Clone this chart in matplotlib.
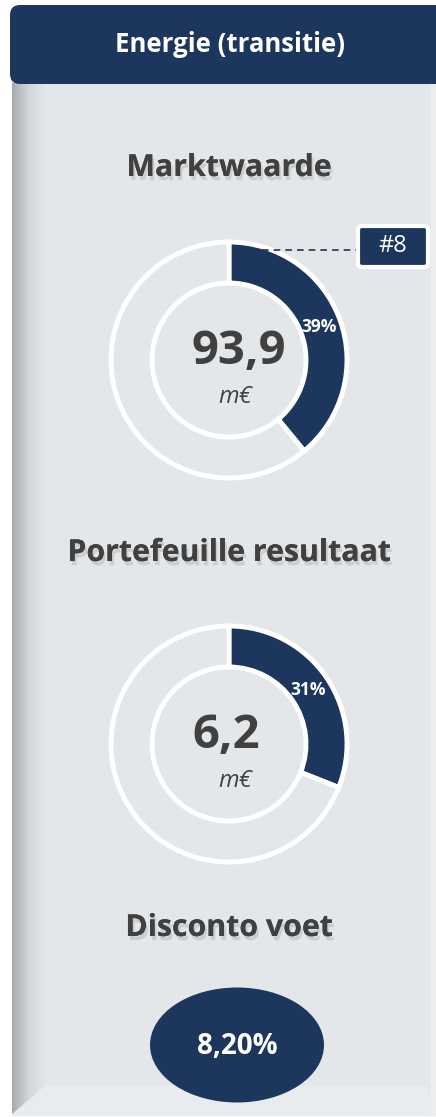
import numpy as np
import matplotlib
matplotlib.use("Agg")
import matplotlib.pyplot as plt
from matplotlib.patches import FancyBboxPatch, Ellipse, Polygon, Rectangle
import matplotlib.patheffects as pe

# chart values
header = "Energie (transitie)"
titles = ["Marktwaarde", "Portefeuille resultaat", "Disconto voet"]
amounts = [93.9, 6.2]
shares = [39, 31]
unit = "m€"
rank_label = "#8"
discount = 8.20

W, H = 436, 1117
navy = "#1C365E"
panel = "#E4E7EA"
txt = "#404040"

plt.rcParams['font.family'] = ['Open Sans', 'DejaVu Sans']

fig = plt.figure(figsize=(W / 100, H / 100), dpi=100)
ax = fig.add_axes([0, 0, 1, 1])


def y(py):
    # pixel row from top -> data y (y up)
    return H - py


# panel + left bevel + bottom bevel
ax.add_patch(Rectangle((12, y(1115)), W - 12, 1115 - 80, color=panel, zorder=0))
grad = np.linspace(0, 1, 64).reshape(1, -1)
ax.imshow(grad, cmap=matplotlib.colors.LinearSegmentedColormap.from_list(
    "bev", ["#A7ABAF", "#D4D7DA", panel]), extent=(12, 46, y(1115), y(83)),
    aspect="auto", zorder=0.5, interpolation="bicubic")
ax.add_patch(Polygon([(12, y(1115)), (46, y(1086)), (W - 10, y(1086)), (W, y(1115))],
                     closed=True, color="#E9ECEE", zorder=0.6))
ax.add_patch(Rectangle((W - 5, y(1115)), 5, 1115 - 83, color="#ECEEF0", zorder=0.6))

# header
ax.add_patch(FancyBboxPatch((10, y(84)), W + 20, 79, boxstyle="round,pad=0,rounding_size=10",
                            fc=navy, ec="none", zorder=2))
ax.text(230, y(45), header, color="white", fontsize=18.5, fontweight="bold",
        ha="center", va="center", zorder=3)

shadow = [pe.withSimplePatchShadow(offset=(1.5, -3), shadow_rgbFace="#6A6A6A", alpha=0.2),
          pe.Normal()]
title_y = [168, 553, 928]
for t, ty in zip(titles, title_y):
    ax.text(229, y(ty), t, color=txt, fontsize=21.8, fontweight="bold", ha="center",
            va="center", path_effects=shadow, zorder=3)

# donuts
centers = [(229, 360), (229, 744)]
num_dx = [10, -3]
for (cx, cy), amt, sh, ndx in zip(centers, amounts, shares, num_dx):
    wedges, _ = ax.pie([sh, 100 - sh], center=(cx, y(cy)), radius=118, startangle=90,
                       counterclock=False, colors=[navy, panel],
                       wedgeprops=dict(width=41, edgecolor="white", linewidth=3.5),
                       frame=True)
    for w in wedges:
        w.set_zorder(2)
    # share label inside dark arc
    ang = np.deg2rad(90 - 360 * sh / 100 * 0.5)
    ax.text(cx + 96 * np.cos(ang), y(cy) + 96 * np.sin(ang),
            f"{sh}%", color="white", fontsize=12.5, fontweight="bold",
            ha="center", va="center", zorder=4)
    ax.text(cx + ndx, y(cy - 8), f"{amt:.1f}".replace(".", ","), color=txt, fontsize=34,
            fontweight="bold", ha="center", va="center", zorder=4)
    ax.text(cx + 6, y(cy + 37), unit, color=txt, fontsize=17, style="italic",
            ha="center", va="center", zorder=4)

# rank callout
ax.plot([262, 357], [y(250), y(250)], color=navy, lw=1.2, ls=(0, (4, 3)), zorder=3)
ax.add_patch(FancyBboxPatch((358, y(267)), 70, 41, boxstyle="round,pad=0,rounding_size=4",
                            fc=navy, ec="white", lw=3, zorder=4))
ax.text(393, y(246), rank_label, color="white", fontsize=17, ha="center", va="center",
        zorder=5)

# discount oval
ax.add_patch(Ellipse((237, y(1045)), 174, 115, fc=navy, ec="none", zorder=3))
ax.text(237, y(1047), f"{discount:.2f}%".replace(".", ","), color="white", fontsize=20,
        fontweight="bold", ha="center", va="center", zorder=4)

ax.set_xlim(0, W)
ax.set_ylim(0, H)
ax.set_aspect("auto")
ax.axis("off")
fig.savefig("out.png", dpi=100, facecolor="white")
